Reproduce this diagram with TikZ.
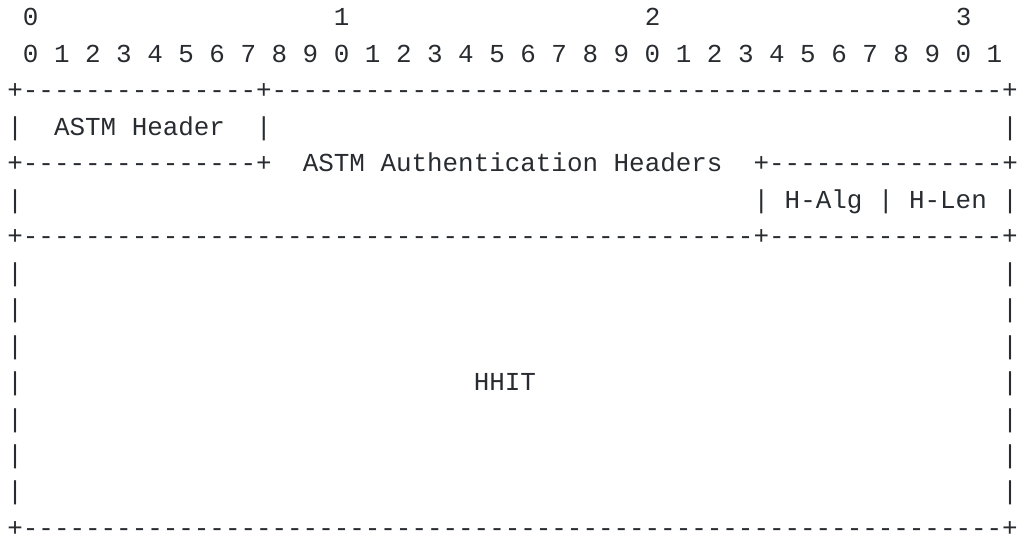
\documentclass[tikz,border=0pt]{standalone}
\usepackage{fontspec}
\setmonofont{Liberation Mono}
\definecolor{ink}{RGB}{40,44,48}
\ExplSyntaxOn
\cs_new:Npn \dashrun #1 { \prg_replicate:nn {#1} {-} }
\ExplSyntaxOff
\tikzset{ascii/.style={anchor=base west, inner sep=0pt, outer sep=0pt, text=ink,
  font=\fontsize{19.43pt}{19.43pt}\selectfont\ttfamily}}
\newcommand\asc[4]{\node[ascii] (#1) at ({5.55pt+#3*11.66pt},{-19.4pt-#2*27.35pt}) {#4};}
\begin{document}
\begin{tikzpicture}
\useasboundingbox (0,0) rectangle (763.5pt,-408pt);
% bit ruler
\asc{oct0}{0}{1}{0}
\asc{oct1}{0}{21}{1}
\asc{oct2}{0}{41}{2}
\asc{oct3}{0}{61}{3}
\asc{bits}{1}{1}{0 1 2 3 4 5 6 7 8 9 0 1 2 3 4 5 6 7 8 9 0 1 2 3 4 5 6 7 8 9 0 1}
% top border
\asc{top}{2}{0}{+\dashrun{15}+\dashrun{47}+}
% ASTM header row
\asc{hL}{3}{0}{|}
\asc{astm}{3}{3}{ASTM Header}
\asc{hM}{3}{16}{|}
\asc{hR}{3}{64}{|}
% authentication headers row
\asc{sepL}{4}{0}{+\dashrun{15}+}
\asc{auth}{4}{19}{ASTM Authentication Headers}
\asc{sepR}{4}{48}{+\dashrun{15}+}
% H-Alg / H-Len row
\asc{aL}{5}{0}{|}
\asc{aM}{5}{48}{|}
\asc{halg}{5}{50}{H-Alg}
\asc{aN}{5}{56}{|}
\asc{hlen}{5}{58}{H-Len}
\asc{aR}{5}{64}{|}
% separator
\asc{mid}{6}{0}{+\dashrun{47}+\dashrun{15}+}
% HHIT block
\foreach \r in {7,...,13}{
  \asc{pL\r}{\r}{0}{|}
  \asc{pR\r}{\r}{64}{|}
}
\asc{hhit}{10}{30}{HHIT}
% bottom border
\asc{bottom}{14}{0}{+\dashrun{63}+}
\end{tikzpicture}
\end{document}
